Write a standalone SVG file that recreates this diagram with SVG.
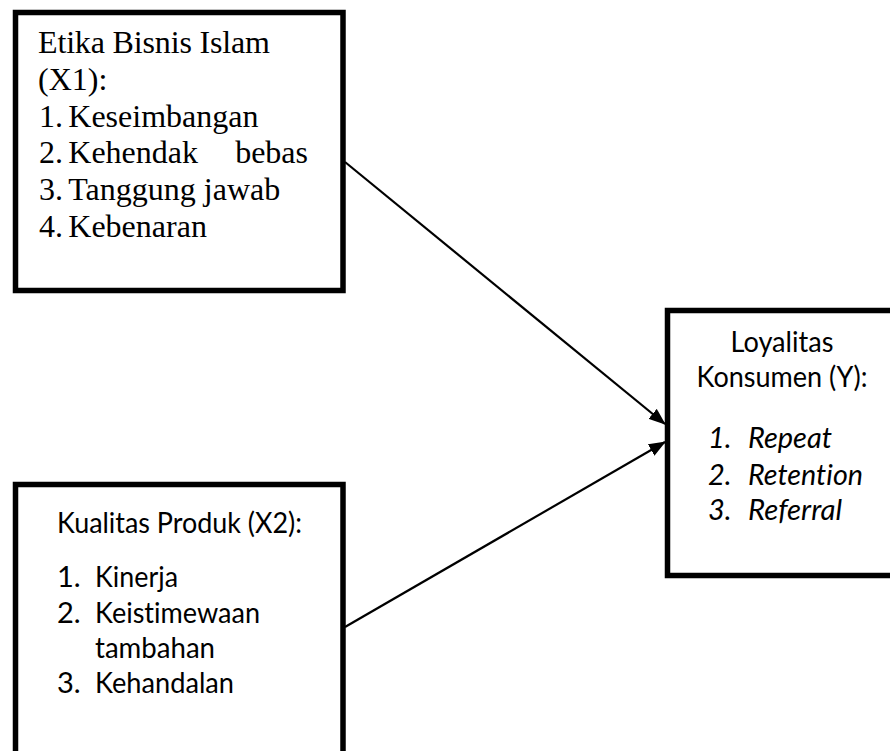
<svg xmlns="http://www.w3.org/2000/svg" width="890" height="751" viewBox="0 0 890 751">
<style>
.box{fill:#fff;stroke:#000;stroke-width:5.5}
.serif{font-family:"Liberation Serif","Times New Roman",serif;font-size:32px;fill:#000}
.sans{font-family:Lato,"Open Sans",sans-serif;font-size:29px;fill:#000;font-variant-ligatures:none}
.it{font-style:italic}
.conn{stroke:#000;stroke-width:2.2;fill:none;marker-end:url(#arr)}
</style>
<defs>
<marker id="arr" viewBox="0 0 17 13" refX="16" refY="6.5" markerWidth="17" markerHeight="13" markerUnits="userSpaceOnUse" orient="auto">
<path d="M0,0 L17,6.5 L0,13 z" fill="#000"/>
</marker>
</defs>
<rect width="890" height="751" fill="#fff"/>
<g id="connectors">
<line class="conn" x1="345" y1="162" x2="665" y2="424"/>
<line class="conn" x1="345" y1="627" x2="665" y2="442"/>
</g>
<g id="x1">
<rect class="box" x="15.5" y="12.5" width="327.5" height="278"/>
<text class="serif" x="38" y="53" textLength="232" lengthAdjust="spacing">Etika Bisnis Islam</text>
<text class="serif" x="38" y="90">(X1):</text>
<text class="serif" x="39" y="126.7">1.</text><text class="serif" x="68.3" y="126.7">Keseimbangan</text>
<text class="serif" x="39" y="163.3">2.</text><text class="serif" x="68.3" y="163.3">Kehendak</text><text class="serif" x="308" y="163.3" text-anchor="end">bebas</text>
<text class="serif" x="39" y="200">3.</text><text class="serif" x="68.3" y="200">Tanggung jawab</text>
<text class="serif" x="39" y="236.7">4.</text><text class="serif" x="68.3" y="236.7">Kebenaran</text>
</g>
<g id="x2">
<rect class="box" x="15.5" y="484.5" width="327.5" height="275"/>
<text class="sans" x="57" y="533" textLength="245" lengthAdjust="spacingAndGlyphs">Kualitas Produk (X2):</text>
<text class="sans" x="57" y="587">1.</text><text class="sans" x="95" y="587" textLength="83" lengthAdjust="spacingAndGlyphs">Kinerja</text>
<text class="sans" x="57" y="623">2.</text><text class="sans" x="95" y="623" textLength="165" lengthAdjust="spacingAndGlyphs">Keistimewaan</text>
<text class="sans" x="95" y="658" textLength="120" lengthAdjust="spacingAndGlyphs">tambahan</text>
<text class="sans" x="57" y="693">3.</text><text class="sans" x="95" y="693" textLength="139" lengthAdjust="spacingAndGlyphs">Kehandalan</text>
</g>
<g id="y">
<rect class="box" x="667.5" y="310.5" width="230" height="265"/>
<text class="sans" x="782" y="352" text-anchor="middle" textLength="103" lengthAdjust="spacingAndGlyphs">Loyalitas</text>
<text class="sans" x="782" y="387" text-anchor="middle" textLength="171" lengthAdjust="spacingAndGlyphs">Konsumen (Y):</text>
<text class="sans it" x="708" y="448">1.</text><text class="sans it" x="748" y="448" textLength="84" lengthAdjust="spacingAndGlyphs">Repeat</text>
<text class="sans it" x="708" y="485">2.</text><text class="sans it" x="748" y="485" textLength="115" lengthAdjust="spacingAndGlyphs">Retention</text>
<text class="sans it" x="708" y="520">3.</text><text class="sans it" x="748" y="520" textLength="94" lengthAdjust="spacingAndGlyphs">Referral</text>
</g>
</svg>
